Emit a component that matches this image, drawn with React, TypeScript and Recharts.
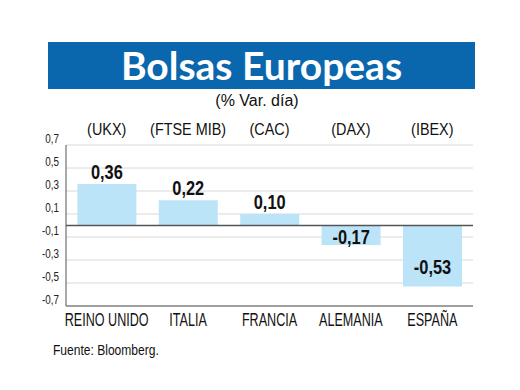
import React from 'react';
import { BarChart, Bar, XAxis, YAxis, CartesianGrid, ReferenceLine, LabelList } from 'recharts';

const markets = ['REINO UNIDO', 'ITALIA', 'FRANCIA', 'ALEMANIA', 'ESPAÑA'];
const tickers = ['(UKX)', '(FTSE MIB)', '(CAC)', '(DAX)', '(IBEX)'];
const changes = [0.36, 0.22, 0.1, -0.17, -0.53];
const yTicks = [-0.7, -0.5, -0.3, -0.1, 0.1, 0.3, 0.5, 0.7];

const data = markets.map((m, i) => ({ market: m, ticker: tickers[i], change: changes[i] }));

const SANS = "'Liberation Sans', Arial, sans-serif";
const comma = (v: number, d: number) => v.toFixed(d).replace('.', ',');

// condensed look: squeeze Liberation Sans horizontally
const NarrowText = ({ x, y, sx, children, ...rest }: any) => (
  <text transform={`translate(${x},${y}) scale(${sx},1)`} fontFamily={SANS} fill="#111" {...rest}>
    {children}
  </text>
);

const YTick = (props: any) => {
  const { x, y, payload } = props;
  return (
    <NarrowText x={x + 1} y={y - 2} sx={0.76} textAnchor="end" fontSize={13} fill="#222">
      {comma(payload.value, 1)}
    </NarrowText>
  );
};

const BottomTick = (props: any) => {
  const { x, y, payload } = props;
  return (
    <NarrowText x={x} y={y + 12} sx={0.7} textAnchor="middle" fontSize={18}>
      {payload.value}
    </NarrowText>
  );
};

const TopTick = (props: any) => {
  const { x, y, payload } = props;
  return (
    <NarrowText x={x} y={y - 2} sx={0.9} textAnchor="middle" fontSize={16}>
      {payload.value}
    </NarrowText>
  );
};

const ValueLabel = (props: any) => {
  const { x, y, width, height, value } = props;
  const top = Math.min(y, y + height);
  const bottom = Math.max(y, y + height);
  const cx = x + width / 2;
  const ty = value >= 0 ? top - 5 : Math.max(top + 18, bottom - 12);
  return (
    <NarrowText x={cx} y={ty} sx={0.82} textAnchor="middle" fontSize={20} fontWeight="bold">
      {comma(value, 2)}
    </NarrowText>
  );
};

export default function App() {
  return (
    <div style={{ position: 'absolute', left: 0, top: 0, width: 520, height: 390, background: '#fff' }}>
      <div
        style={{
          position: 'absolute',
          left: 48,
          top: 42,
          width: 427,
          height: 47,
          background: '#0b67ad',
          color: '#fff',
          fontFamily: 'Lato, sans-serif',
          fontWeight: 700,
          fontSize: 39,
          lineHeight: '47px',
          textAlign: 'center',
        }}
      >
        Bolsas Europeas
      </div>
      <div
        style={{
          position: 'absolute',
          left: 0,
          top: 92,
          width: 514,
          textAlign: 'center',
          fontFamily: SANS,
          fontSize: 16,
          color: '#111',
        }}
      >
        (% Var. día)
      </div>
      <div style={{ position: 'absolute', left: 0, top: 0 }}>
        <BarChart
          width={520}
          height={390}
          data={data}
          margin={{ top: 120, right: 47, bottom: 54, left: 0 }}
          barCategoryGap="14%"
        >
          <CartesianGrid horizontal vertical={false} stroke="#d8d8d8" />
          <XAxis
            xAxisId="top"
            orientation="top"
            dataKey="ticker"
            height={25}
            axisLine={false}
            tickLine={false}
            tick={<TopTick />}
            interval={0}
          />
          <XAxis
            dataKey="market"
            height={30}
            axisLine={{ stroke: '#555' }}
            tickLine={false}
            tick={<BottomTick />}
            interval={0}
          />
          <YAxis
            width={66}
            domain={[-0.7, 0.7]}
            ticks={yTicks}
            axisLine={{ stroke: '#555' }}
            tickLine={false}
            tick={<YTick />}
            interval={0}
          />
          <ReferenceLine y={0} stroke="#555" strokeWidth={1.5} />
          <Bar dataKey="change" fill="#bce4f8" isAnimationActive={false}>
            <LabelList dataKey="change" content={<ValueLabel />} />
          </Bar>
        </BarChart>
      </div>
      <div
        style={{
          position: 'absolute',
          left: 53,
          top: 342,
          fontFamily: SANS,
          fontSize: 14,
          color: '#111',
          transform: 'scaleX(0.86)',
          transformOrigin: 'left top',
          whiteSpace: 'nowrap',
        }}
      >
        Fuente: Bloomberg.
      </div>
    </div>
  );
}
